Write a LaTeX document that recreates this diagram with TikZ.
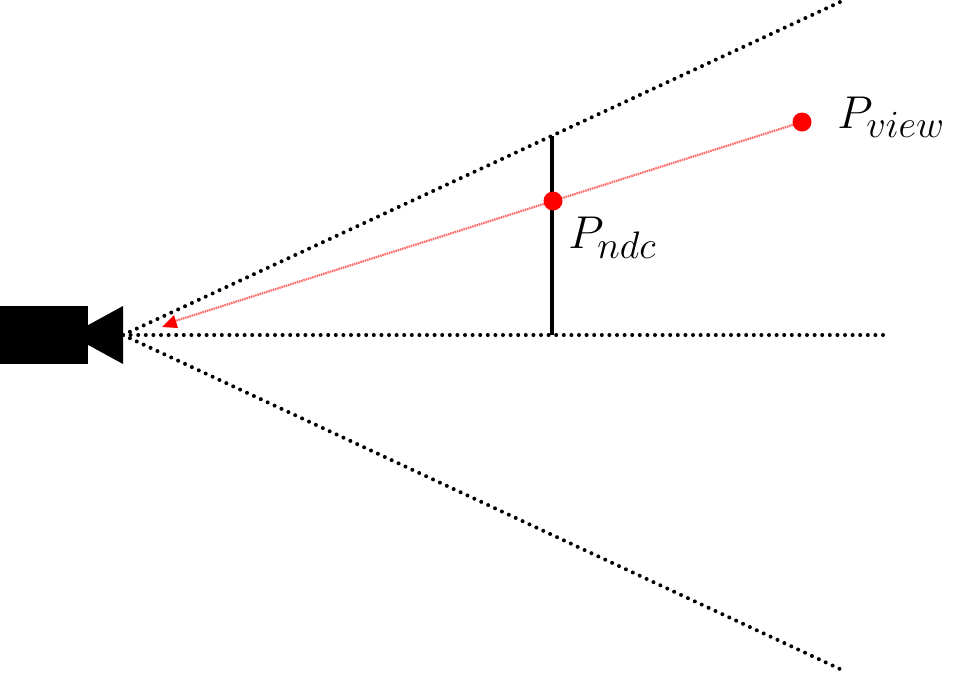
\documentclass[tikz,border=0pt]{standalone}
\usepackage{tikz}
\usetikzlibrary{backgrounds}
\tikzstyle{frustum} = [black, line width=4pt, line cap=round, dash pattern=on 0pt off 7.6pt]
\tikzstyle{plane} = [black, line width=4pt]
\tikzstyle{ray} = [red!60, line width=2.2pt, dash pattern=on 1.5pt off 0.8pt]
\tikzstyle{rayhead} = [draw=none, fill=red]
\tikzstyle{point} = [circle, fill=red, inner sep=0pt, minimum size=19pt]
\tikzstyle{body} = [draw=none, fill=black]
\tikzstyle{pointlabel} = [inner sep=0pt, anchor=base west, scale=1.85, transform shape, font=\fontsize{24.88}{30}\selectfont]

\begin{document}
\begin{tikzpicture}[x=1pt, y=-1pt]
        \useasboundingbox (0,0) rectangle (970,673);
        \fill [body] (0,306) rectangle (88,364);
        \fill [body] (70,335) -- (123,306) -- (123,364) -- cycle;
        \coordinate (apex) at (123,335);
        \coordinate (top) at (840,2);
        \coordinate (bottom) at (840,669);
        \coordinate (axis) at (887,335);
        \coordinate (planetop) at (552,136);
        \coordinate (planefoot) at (552,335);
        \coordinate (tip) at (172,322);
        \node (view) [point] at (802,122) {};
        \node (ndc) [point] at (553,201) {};
        \begin{scope}[on background layer]
            \draw [frustum] (apex) -- (top);
            \draw [frustum] (apex) -- (bottom);
            \draw [frustum] (apex) -- (axis);
            \draw [plane] (planetop) -- (planefoot);
            \draw [ray] (view) -- (ndc);
            \draw [ray] (ndc) -- (tip);
        \end{scope}
        \fill [rayhead] (162,327) -- (174,315) -- (178,328) -- cycle;
        \node (viewlabel) [pointlabel] at (837,128) {$P_{view}$};
        \node (ndclabel) [pointlabel] at (568,248) {$P_{ndc}$};
    \end{tikzpicture}
\end{document}
